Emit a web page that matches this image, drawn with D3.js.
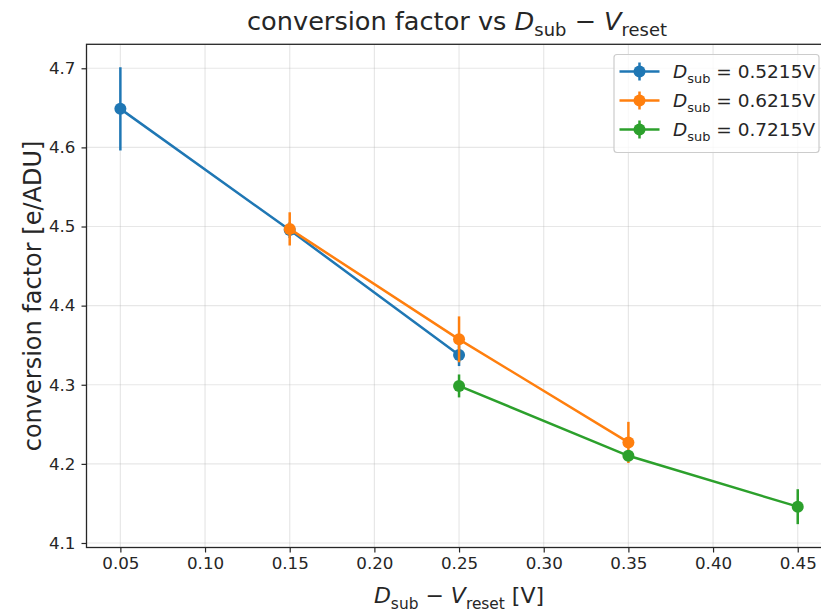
<!DOCTYPE html>
<html>
<head>
<meta charset="utf-8">
<script src="https://cdn.jsdelivr.net/npm/d3@7"></script>
<style>
  html, body { margin: 0; padding: 0; background: #fff; }
  svg text { font-family: "DejaVu Sans", sans-serif; fill: #262626; }
</style>
</head>
<body>
<svg id="chart" width="821" height="612"></svg>
<script>
// Measured conversion factor for three substrate voltages
const seriesNames = ["0.5215V", "0.6215V", "0.7215V"];
const blueX = [0.05, 0.15, 0.25];
const blueY = [4.6487, 4.4955, 4.3376];
const blueErr = [0.0526, 0.010, 0.014];
const orangeX = [0.15, 0.25, 0.35];
const orangeY = [4.4970, 4.3574, 4.2271];
const orangeErr = [0.021, 0.029, 0.026];
const greenX = [0.25, 0.35, 0.45];
const greenY = [4.2985, 4.2102, 4.1459];
const greenErr = [0.0145, 0.004, 0.0221];
const xTicks = [0.05, 0.10, 0.15, 0.20, 0.25, 0.30, 0.35, 0.40, 0.45];
const yTicks = [4.1, 4.2, 4.3, 4.4, 4.5, 4.6, 4.7];
const colors = ["#1f77b4", "#ff7f0e", "#2ca02c"];

const series = [
  { name: seriesNames[0], x: blueX, y: blueY, e: blueErr, color: colors[0] },
  { name: seriesNames[1], x: orangeX, y: orangeY, e: orangeErr, color: colors[1] },
  { name: seriesNames[2], x: greenX, y: greenY, e: greenErr, color: colors[2] }
];

const svg = d3.select("#chart");
const plot = { left: 86.5, right: 831.6, top: 44.3, bottom: 547.5 };

const x = d3.scaleLinear().domain([0.03, 0.47]).range([plot.left, plot.right]);
const y = d3.scaleLinear().domain([4.0943, 4.7303]).range([plot.bottom, plot.top]);

// grid
const grid = svg.append("g");
grid.selectAll("line.gx").data(xTicks).join("line")
  .attr("x1", d => x(d)).attr("x2", d => x(d))
  .attr("y1", plot.top).attr("y2", plot.bottom)
  .attr("stroke", "#b0b0b0").attr("stroke-opacity", 0.3).attr("stroke-width", 1.2);
grid.selectAll("line.gy").data(yTicks).join("line")
  .attr("y1", d => y(d)).attr("y2", d => y(d))
  .attr("x1", plot.left).attr("x2", plot.right)
  .attr("stroke", "#b0b0b0").attr("stroke-opacity", 0.3).attr("stroke-width", 1.2);

// axes
const xAxis = d3.axisBottom(x).tickValues(xTicks).tickFormat(d3.format(".2f")).tickSize(5).tickPadding(5);
const yAxis = d3.axisLeft(y).tickValues(yTicks).tickFormat(d3.format(".1f")).tickSize(5).tickPadding(6);

const gx = svg.append("g").attr("transform", `translate(0,${plot.bottom})`).call(xAxis);
const gy = svg.append("g").attr("transform", `translate(${plot.left},0)`).call(yAxis);
[gx, gy].forEach(g => {
  g.select(".domain").remove();
  g.selectAll(".tick line").attr("stroke", "#262626").attr("stroke-width", 1.2);
  g.selectAll(".tick text").attr("font-size", 16.7).attr("fill", "#262626")
    .style("font-family", "'DejaVu Sans', sans-serif");
});
gx.selectAll(".tick text").attr("dy", "0.71em");

// frame
svg.append("rect")
  .attr("x", plot.left).attr("y", plot.top)
  .attr("width", plot.right - plot.left).attr("height", plot.bottom - plot.top)
  .attr("fill", "none").attr("stroke", "#262626").attr("stroke-width", 1.3);

// data
const line = d3.line().x(d => x(d[0])).y(d => y(d[1]));
series.forEach(s => {
  const g = svg.append("g");
  const pts = s.x.map((xv, i) => [xv, s.y[i], s.e[i]]);
  g.append("path").datum(pts).attr("d", line)
    .attr("fill", "none").attr("stroke", s.color).attr("stroke-width", 2.5);
  g.selectAll("line.err").data(pts).join("line")
    .attr("x1", d => x(d[0])).attr("x2", d => x(d[0]))
    .attr("y1", d => y(d[1] - d[2])).attr("y2", d => y(d[1] + d[2]))
    .attr("stroke", s.color).attr("stroke-width", 2.5);
  g.selectAll("circle").data(pts).join("circle")
    .attr("cx", d => x(d[0])).attr("cy", d => y(d[1])).attr("r", 6)
    .attr("fill", s.color);
});

// math-style label helper: parts = [text, style]
function richText(sel, parts, size) {
  parts.forEach(p => {
    const t = sel.append("tspan").text(p[0]);
    if (p[1] === "it") t.attr("font-style", "italic");
    if (p[1] === "sub") t.attr("font-size", size * 0.7).attr("dy", size * 0.25);
    if (p[1] === "back") t.attr("dy", -size * 0.25);
  });
}

const MINUS = " \u2212 ";

// title
const title = svg.append("text").attr("x", 457).attr("y", 30)
  .attr("text-anchor", "middle").attr("font-size", 25.6);
richText(title, [
  ["conversion factor vs ", ""], ["D", "it"], ["sub", "sub"],
  [MINUS, "back"], ["V", "it"], ["reset", "sub"]
], 25.6);

// x label
const xl = svg.append("text").attr("x", 459).attr("y", 603)
  .attr("text-anchor", "middle").attr("font-size", 22);
richText(xl, [
  ["D", "it"], ["sub", "sub"], [MINUS, "back"], ["V", "it"], ["reset", "sub"], [" [V]", "back"]
], 22);

// y label
svg.append("text").attr("transform", "translate(41,296) rotate(-90)")
  .attr("text-anchor", "middle").attr("font-size", 24)
  .text("conversion factor [e/ADU]");

// legend
const lg = svg.append("g");
lg.append("rect").attr("x", 614).attr("y", 54.5).attr("width", 205).attr("height", 98)
  .attr("rx", 3).attr("fill", "#fff").attr("fill-opacity", 0.8)
  .attr("stroke", "#cccccc").attr("stroke-width", 1.2);
series.forEach((s, i) => {
  const cy = 71.5 + i * 29;
  lg.append("line").attr("x1", 619.5).attr("x2", 659.5).attr("y1", cy).attr("y2", cy)
    .attr("stroke", s.color).attr("stroke-width", 2.5);
  lg.append("line").attr("x1", 639.5).attr("x2", 639.5).attr("y1", cy - 9).attr("y2", cy + 9)
    .attr("stroke", s.color).attr("stroke-width", 2.5);
  lg.append("circle").attr("cx", 639.5).attr("cy", cy).attr("r", 6).attr("fill", s.color);
  const t = lg.append("text").attr("x", 673).attr("y", cy + 6.5).attr("font-size", 18.5);
  richText(t, [["D", "it"], ["sub", "sub"], [" = " + s.name, "back"]], 18.5);
});
</script>
</body>
</html>
